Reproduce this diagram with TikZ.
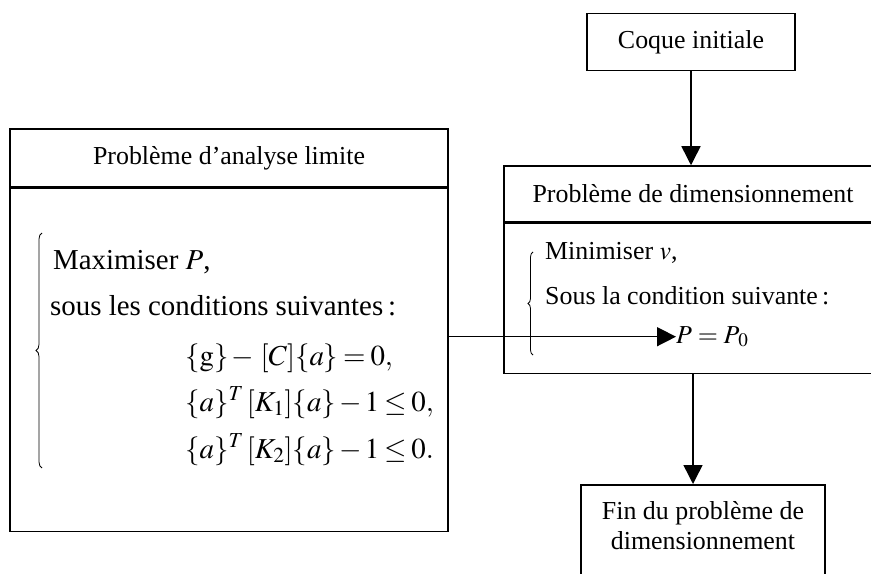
\documentclass[tikz,border=0pt]{standalone}
\usepackage{mathptmx}
\usepackage{fontspec}
\setmainfont{Liberation Serif}
\usetikzlibrary{arrows.meta,decorations.pathreplacing}

\newcommand{\serre}{\medmuskip=2mu\relax\thickmuskip=3mu\relax}

\begin{document}
\begin{tikzpicture}[x=1bp,y=-1bp,
  boite/.style={draw,line width=1.5bp,inner sep=0pt,font=\fontsize{26}{30}\selectfont},
  texte/.style={inner sep=0pt,anchor=base west,font=\fontsize{29}{34}\selectfont\serre},
  texteB/.style={inner sep=0pt,anchor=base west,font=\fontsize{26}{30}\selectfont},
  fleche/.style={-{Triangle[length=19bp,width=19bp]},line width=1.5bp},
  accolade/.style={decorate,decoration={brace,amplitude=6bp},line width=0.8bp}]
  \useasboundingbox (0,0) rectangle (871,574);
  \clip (0,0) rectangle (871,574);

  % coque initiale
  \node (coque) [boite,minimum width=208bp,minimum height=57bp] at (691,42) {Coque initiale};

  % analyse limite
  \node (titreA) [boite,minimum width=438bp,minimum height=58bp] at (229,158) {Problème d’analyse limite};
  \node (corpsA) [boite,minimum width=438bp,minimum height=343bp,anchor=north] at (titreA.south) {};
  \draw[accolade] (42,468) -- (42,233);
  \path (53,269) node[texte] (maxi) {Maximiser $P$,};
  \path (50,315) node[texte] (sous) {sous les conditions suivantes\,:};
  \path (185,365) node[texte] (eq1) {$\{\mathrm{g}\}-\,[C]\{a\}=0,$};
  \path (185,411) node[texte] (eq2) {$\{a\}^{T}\,[K_{1}]\{a\}-1\leq 0,$};
  \path (185,458) node[texte] (eq3) {$\{a\}^{T}\,[K_{2}]\{a\}-1\leq 0.$};

  % dimensionnement
  \node (titreB) [boite,minimum width=378bp,minimum height=56bp] at (693,194) {Problème de dimensionnement};
  \node (corpsB) [boite,minimum width=378bp,minimum height=150bp,anchor=north] at (titreB.south) {};
  \draw[accolade,decoration={amplitude=5bp}] (533,355) -- (533,252);
  \path (545,260) node[texteB] (mini) {Minimiser $v$,};
  \path (545,304) node[texteB] (cond) {Sous la condition suivante\,:};
  \path (676,343) node[texteB] (pp) {$P=P_{\mkern2mu 0}$};

  % fin
  \node (fin) [boite,minimum width=244bp,anchor=north,align=center,inner ysep=17bp] at (703,484) {Fin du problème de\\dimensionnement\\[4pt]\strut};

  \draw[fleche] (coque.south) -- (coque.south |- titreB.north);
  \draw[fleche] (corpsA.east |- pp.west) -- (pp.west);
  \draw[fleche] (corpsB.south) -- (corpsB.south |- fin.north);
\end{tikzpicture}
\end{document}
